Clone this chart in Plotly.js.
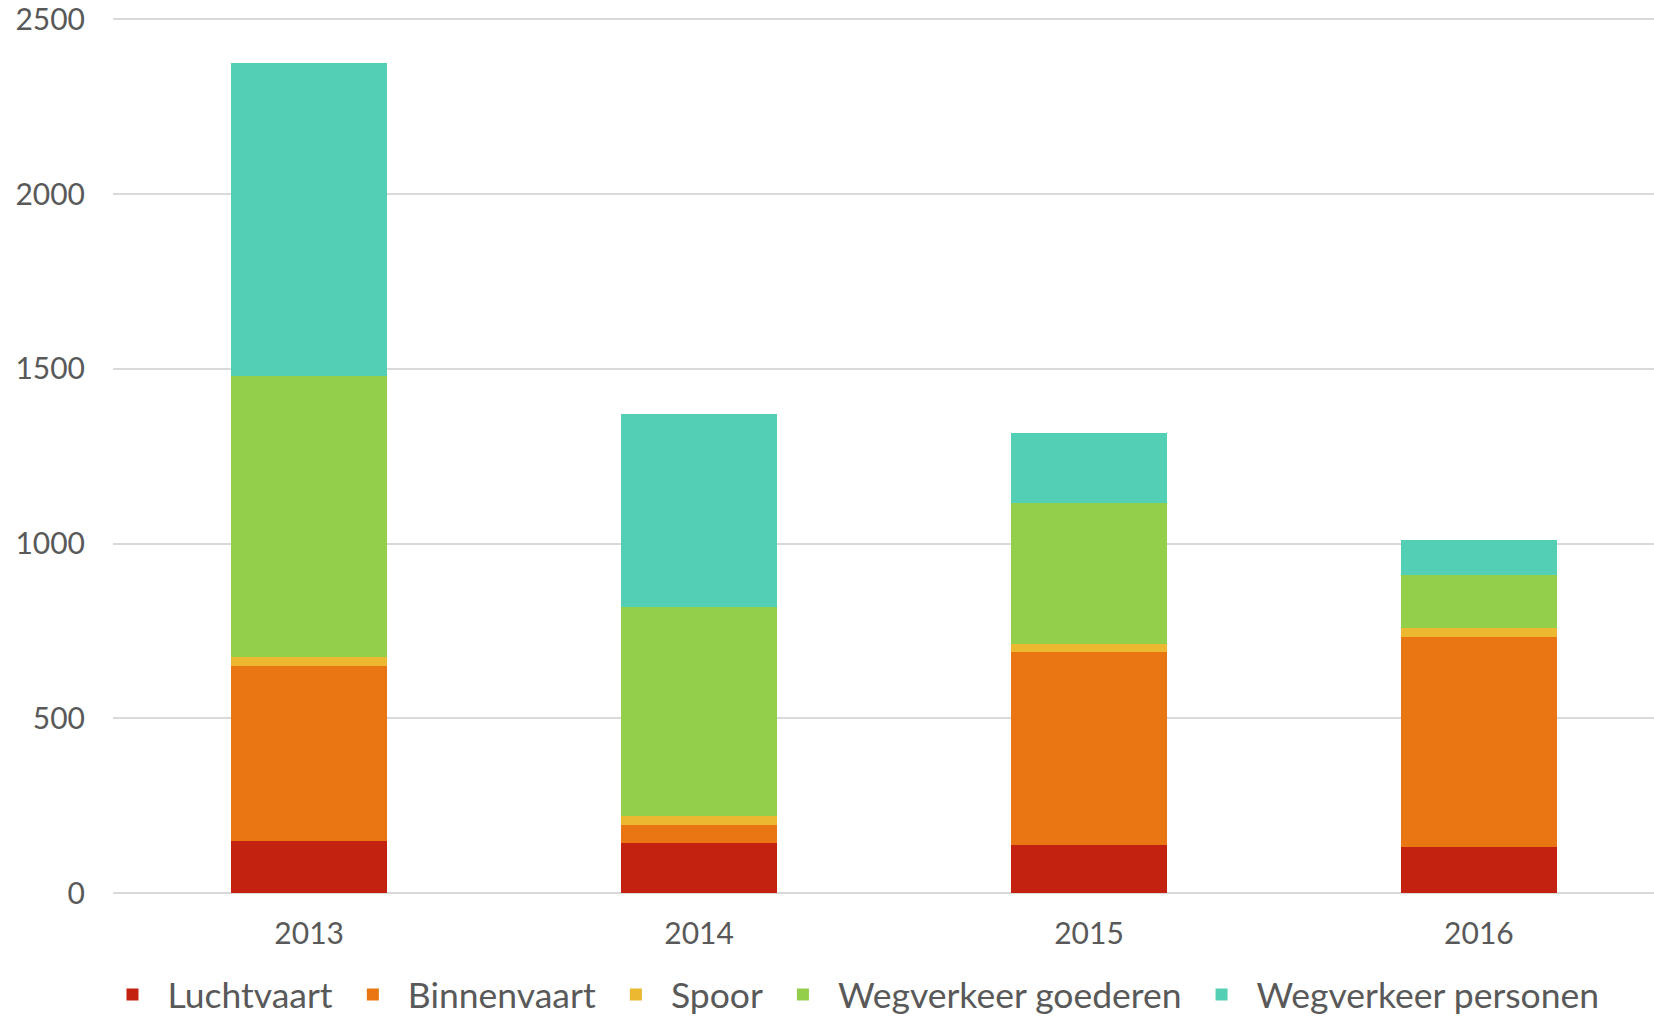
<!DOCTYPE html>
<html>
<head>
<meta charset="utf-8">
<script src="https://cdn.plot.ly/plotly-3.0.1.min.js"></script>
<style>html,body{margin:0;padding:0;background:#fff;}#chart{width:1654px;height:1018px;}</style>
</head>
<body>
<div id="chart"></div>
<script>
const years = ['2013', '2014', '2015', '2016'];
const luchtvaart = [148, 142, 138, 133];
const binnenvaart = [501, 52, 551, 600];
const spoor = [27, 25, 25, 26];
const wegverkeerGoederen = [804, 600, 402, 151];
const wegverkeerPersonen = [896, 552, 200, 99];
const yTicks = [0, 500, 1000, 1500, 2000, 2500];

const seriesNames = ['Luchtvaart', 'Binnenvaart', 'Spoor', 'Wegverkeer goederen', 'Wegverkeer personen'];
const seriesValues = [luchtvaart, binnenvaart, spoor, wegverkeerGoederen, wegverkeerPersonen];
const seriesColors = ['#C42210', '#EA7613', '#ECB830', '#94CF4C', '#52CFB4'];

const traces = seriesNames.map((name, i) => ({
  type: 'bar',
  name: name,
  x: years,
  y: seriesValues[i],
  marker: {color: seriesColors[i]},
  hoverinfo: 'x+y+name'
}));

const tickFont = {family: 'Lato, "Open Sans", sans-serif', size: 30, color: '#595959'};

const layout = {
  width: 1654,
  height: 1018,
  barmode: 'stack',
  bargap: 0.6,
  paper_bgcolor: '#ffffff',
  plot_bgcolor: '#ffffff',
  margin: {l: 113, r: 0, t: 9, b: 125, pad: 0, autoexpand: false},
  xaxis: {
    type: 'category',
    range: [-0.503, 3.449],
    showgrid: false,
    zeroline: false,
    showline: false,
    ticks: '',
    tickfont: tickFont,
    ticklabelstandoff: 20
  },
  yaxis: {
    range: [0, 2530],
    tickvals: yTicks,
    ticktext: yTicks.map(String),
    showgrid: true,
    gridcolor: '#D9D9D9',
    gridwidth: 2,
    zeroline: true,
    zerolinecolor: '#D9D9D9',
    zerolinewidth: 2,
    showline: false,
    ticks: '',
    tickfont: tickFont,
    ticklabelstandoff: 27,
    ticklabeloverflow: 'allow'
  },
  legend: {
    orientation: 'h',
    xref: 'container',
    yref: 'container',
    x: 0.5145,
    xanchor: 'center',
    y: 0.0226,
    yanchor: 'middle',
    itemwidth: 60,
    font: {family: 'Lato, "Open Sans", sans-serif', size: 35.5, color: '#595959'},
    traceorder: 'normal',
    itemclick: false
  },
  showlegend: true
};

Plotly.newPlot('chart', traces, layout, {displayModeBar: false, staticPlot: true});
</script>
</body>
</html>
